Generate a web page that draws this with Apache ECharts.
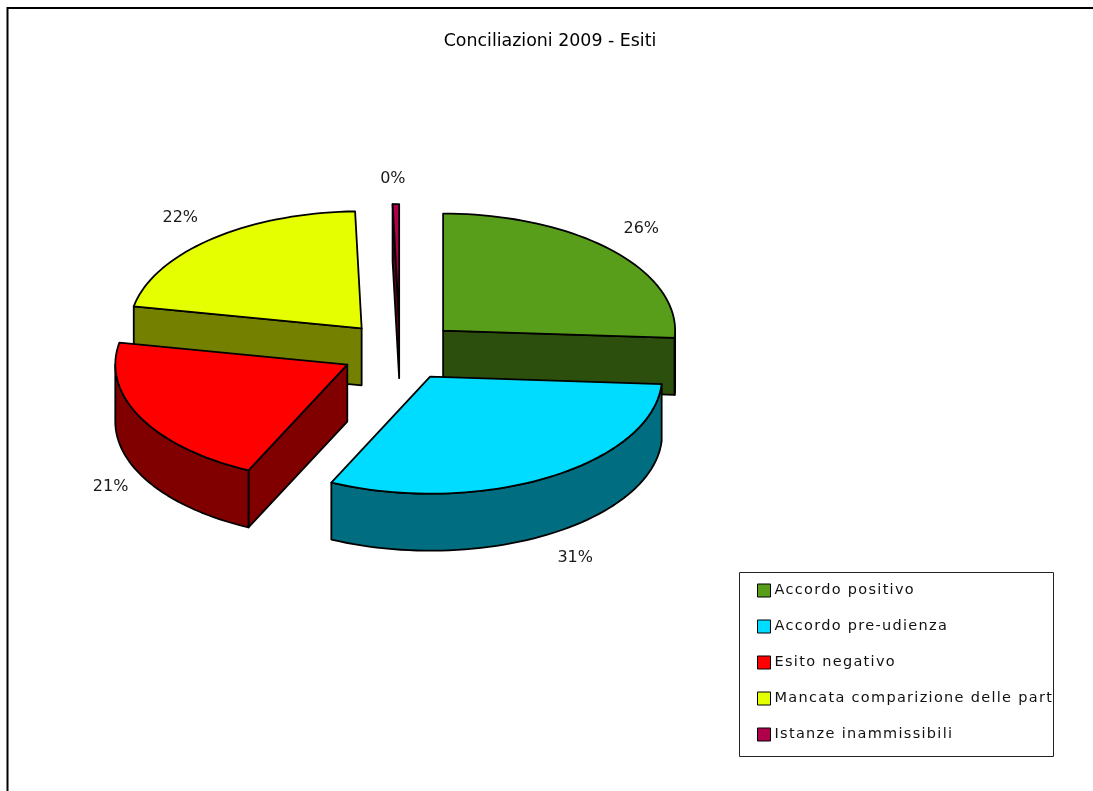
<!DOCTYPE html>
<html>
<head>
<meta charset="utf-8">
<title>Conciliazioni 2009 - Esiti</title>
<script src="https://cdn.jsdelivr.net/npm/echarts@6/dist/echarts.min.js"></script>
<style>
  html, body { margin: 0; padding: 0; background: #fff; }
  #chart { width: 1093px; height: 791px; }
</style>
</head>
<body>
<div id="chart"></div>
<script>
// Outcome categories and their share of the total, in percent
const categories = [
  'Accordo positivo',
  'Accordo pre-udienza',
  'Esito negativo',
  'Mancata comparizione delle parti',
  'Istanze inammissibili'
];
const shares = [26, 31, 21, 21.55, 0.45];
const topColors = ['#589E1A', '#00DCFF', '#FF0000', '#E6FF00', '#B0004B'];
const wallColors = ['#2C4F0D', '#006E80', '#800000', '#738000', '#580026'];

// Where each percentage label sits relative to its slice's rim, in pixels
const labelOffsets = [[29, -22], [27, 23], [-30, 12], [-31, -21], [-3, -25]];

// Paint order, back to front
const paintOrder = [2, 4, 3, 1, 1];

// Tilted-pie projection
const pie = { cx: 400, cy: 351, rx: 232, ry: 117, depth: 57, explode: 0.255 };

const total = shares.reduce((a, b) => a + b, 0);
const startAngles = shares.map((_, i) =>
  shares.slice(0, i).reduce((a, b) => a + b, 0) / total * 360);

const rad = d => d * Math.PI / 180;
const rim = (c, deg, dy) => [
  c[0] + pie.rx * Math.sin(rad(deg)),
  c[1] - pie.ry * Math.cos(rad(deg)) + (dy || 0)
];
const sweep = (c, from, to, dy) => {
  const pts = [];
  const n = Math.max(1, Math.ceil((to - from) / 2));
  for (let i = 0; i <= n; i++) pts.push(rim(c, from + (to - from) * i / n, dy));
  return pts;
};

function sliceRenderer(index) {
  return function (params, api) {
    const value = api.value(0);
    const a0 = startAngles[index];
    const a1 = a0 + value / total * 360;
    const mid = (a0 + a1) / 2;
    const c = [
      pie.cx + pie.explode * pie.rx * Math.sin(rad(mid)),
      pie.cy - pie.explode * pie.ry * Math.cos(rad(mid))
    ];
    const edge = { stroke: '#000', lineWidth: 1.8, lineJoin: 'round' };
    const wallStyle = Object.assign({ fill: wallColors[index] }, edge);
    const children = [];
    const d = pie.depth;

    const flatWall = deg => {
      const p = rim(c, deg);
      children.push({
        type: 'polygon',
        shape: { points: [c, p, [p[0], p[1] + d], [c[0], c[1] + d]] },
        style: wallStyle
      });
    };

    // Radial walls are only drawn when they turn toward the viewer
    if (Math.cos(rad(a0 - 90)) < 0) flatWall(a0);
    if (Math.cos(rad(a1 + 90)) < 0) flatWall(a1);

    // Outer curved wall, limited to the front half of the rim
    const f0 = Math.max(a0, 90);
    const f1 = Math.min(a1, 270);
    if (f1 > f0) {
      const upper = sweep(c, f0, f1, 0);
      const lower = sweep(c, f0, f1, d).reverse();
      children.push({
        type: 'polygon',
        shape: { points: upper.concat(lower) },
        style: wallStyle
      });
    }

    // Top face
    children.push({
      type: 'polygon',
      shape: { points: [c].concat(sweep(c, a0, a1, 0)) },
      style: Object.assign({ fill: topColors[index] }, edge)
    });

    // Percentage label
    const front = Math.cos(rad(mid)) < 0;
    const anchor = rim(c, mid, front ? d : 0);
    children.push({
      type: 'text',
      style: {
        text: Math.round(value / total * 100) + '%',
        x: anchor[0] + labelOffsets[index][0],
        y: anchor[1] + labelOffsets[index][1],
        fill: '#1a1a1a',
        font: '16px "DejaVu Sans"',
        textAlign: 'center',
        textVerticalAlign: 'middle'
      }
    });
    return { type: 'group', children };
  };
}

const chart = echarts.init(document.getElementById('chart'), null, { renderer: 'canvas' });

// The legend lives on its own layer so its text can be tracked out
const legendLayer = chart.getZr().painter.getLayer(1);
if (legendLayer && legendLayer.ctx) legendLayer.ctx.letterSpacing = '1.3px';

chart.setOption({
  animation: false,
  backgroundColor: '#fff',
  color: topColors,
  title: {
    text: 'Conciliazioni 2009 - Esiti',
    left: 550,
    top: 33,
    textAlign: 'center',
    padding: 0,
    textStyle: { fontFamily: 'DejaVu Sans', fontSize: 17.4, fontWeight: 'normal', color: '#000' }
  },
  legend: {
    zlevel: 1,
    orient: 'vertical',
    left: 757,
    top: 583,
    padding: 0,
    itemWidth: 13,
    itemHeight: 13,
    itemGap: 21,
    icon: 'rect',
    selectedMode: false,
    itemStyle: { borderColor: '#000', borderWidth: 1 },
    textStyle: {
      fontFamily: 'DejaVu Sans',
      fontSize: 14.5,
      lineHeight: 13,
      color: '#111',
      padding: [0, 0, 0, -1],
      width: 243,
      overflow: 'truncate',
      ellipsis: ''
    },
    data: categories
  },
  graphic: [
    {
      type: 'polyline',
      silent: true,
      shape: { points: [[7.5, 791], [7.5, 8], [1093, 8]] },
      style: { stroke: '#000', lineWidth: 2, fill: 'none' }
    },
    {
      type: 'rect',
      silent: true,
      shape: { x: 739.5, y: 572.5, width: 314, height: 184 },
      style: { stroke: '#222', lineWidth: 1, fill: 'none' }
    }
  ],
  series: categories.map((name, i) => ({
    type: 'custom',
    name,
    coordinateSystem: 'none',
    renderItem: sliceRenderer(i),
    itemStyle: { color: topColors[i] },
    silent: true,
    z: paintOrder[i],
    data: [[shares[i]]]
  }))
});
</script>
</body>
</html>
